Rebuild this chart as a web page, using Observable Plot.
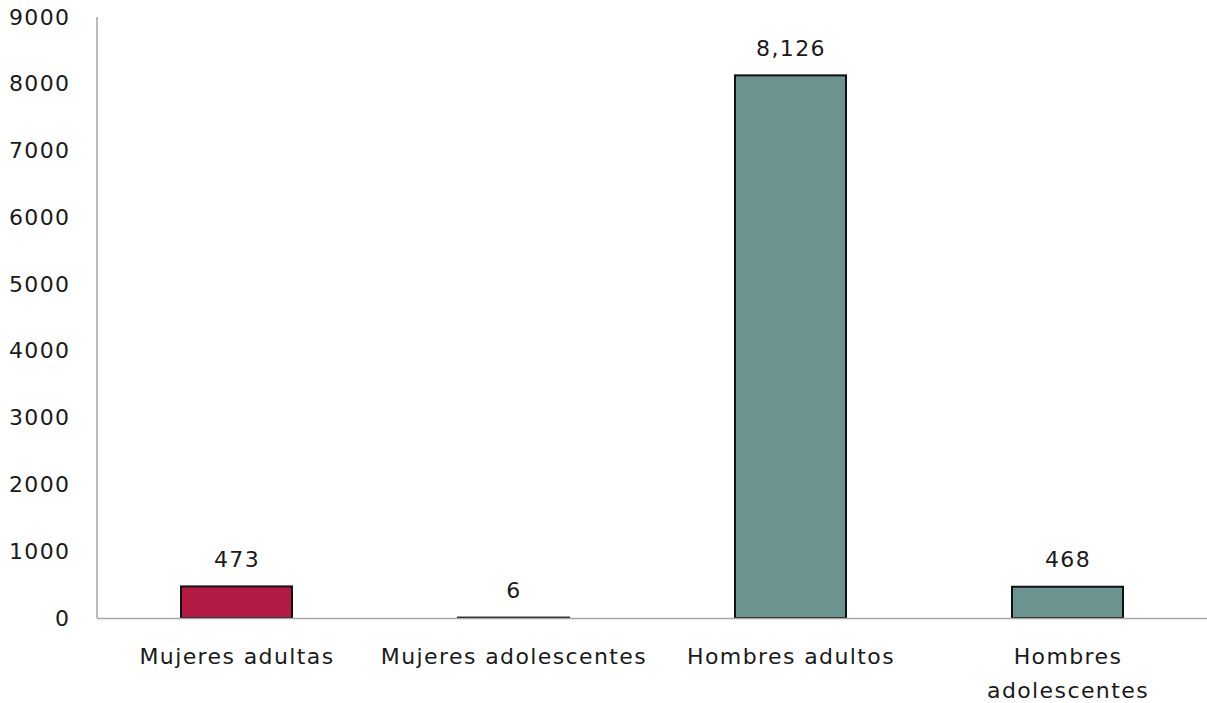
<!DOCTYPE html>
<html>
<head>
<meta charset="utf-8">
<script src="https://cdn.jsdelivr.net/npm/d3@7"></script>
<script src="https://cdn.jsdelivr.net/npm/@observablehq/plot@0.6"></script>
<style>
  html, body { margin: 0; padding: 0; background: #fff; }
  #chart svg { display: block; overflow: visible; }
</style>
</head>
<body>
<div id="chart"></div>
<script>
const categories = ["Mujeres adultas", "Mujeres adolescentes", "Hombres adultos", "Hombres adolescentes"];
const values = [473, 6, 8126, 468];
const barColors = ["#B31B45", "#6B9491", "#6B9491", "#6B9491"];
const yTicks = [0, 1000, 2000, 3000, 4000, 5000, 6000, 7000, 8000, 9000];

const data = categories.map((c, i) => ({category: c, value: values[i], color: barColors[i]}));
const fmt = d3.format(",");
const FONT = "'DejaVu Sans', sans-serif";

const plot = Plot.plot({
  width: 1207,
  height: 703,
  marginLeft: 97,
  marginRight: 0,
  marginTop: 17,
  marginBottom: 85,
  style: {fontFamily: FONT, fontSize: "22px", color: "#1a1a1a", background: "#fff", letterSpacing: "1.4px"},
  x: {domain: categories, paddingInner: 0.6, paddingOuter: 0.3, label: null},
  y: {domain: [0, 9000], label: null},
  marks: [
    Plot.axisY({ticks: yTicks, tickSize: 0, tickPadding: 27, tickFormat: d => String(d), fontSize: 22, label: null}),
    Plot.axisX({tickSize: 0, tickPadding: 22, fontSize: 22, lineHeight: 1.52,
      tickFormat: d => d === "Hombres adolescentes" ? "Hombres\nadolescentes" : d, label: null}),
    Plot.barY(data, {x: "category", y: "value", fill: "color", stroke: "#111", strokeWidth: 2}),
    Plot.ruleY([0], {stroke: "#a6a6a6", strokeWidth: 1.5}),
    Plot.text(data, {x: "category", y: "value", text: d => fmt(d.value), lineAnchor: "bottom", dy: -20, fontSize: 22, fill: "#1a1a1a"})
  ]
});

const ys = plot.scale("y");
d3.select(plot).append("line")
  .attr("x1", 97).attr("x2", 97)
  .attr("y1", ys.apply(0)).attr("y2", ys.apply(9000))
  .attr("stroke", "#a6a6a6").attr("stroke-width", 1.5);

document.getElementById("chart").append(plot);
</script>
</body>
</html>
